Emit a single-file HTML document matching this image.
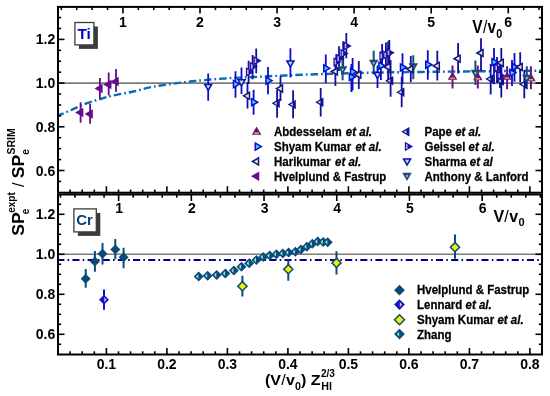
<!DOCTYPE html><html><head><meta charset="utf-8"><style>
html,body{margin:0;padding:0;background:#fff;}
svg{display:block;will-change:transform;}
text{font-family:"Liberation Sans",sans-serif;font-weight:bold;fill:#000;}
</style></head><body>
<svg width="550" height="396" viewBox="0 0 550 396">
<rect width="550" height="396" fill="#fff"/>
<defs><clipPath id="ct"><rect x="58" y="6.9" width="484" height="185.8"/></clipPath>
<clipPath id="cb"><rect x="58" y="194.5" width="484" height="160"/></clipPath></defs>
<line x1="58" y1="83.1" x2="542" y2="83.1" stroke="#7c7c7c" stroke-width="1.6"/>
<line x1="58" y1="254.3" x2="542" y2="254.3" stroke="#7c7c7c" stroke-width="1.6"/>
<line x1="58" y1="260" x2="542" y2="260" stroke="#00008c" stroke-width="2" stroke-dasharray="7.1 3.2 1.6 3.25" stroke-dashoffset="0.75"/>
<polyline clip-path="url(#ct)" points="58,115.5 59.22,115.01 60.87,114.35 62.84,113.56 65.01,112.67 67.27,111.74 69.5,110.8 71.76,109.8 74.14,108.7 76.61,107.56 79.13,106.41 81.64,105.31 84.1,104.3 86.52,103.39 88.94,102.54 91.35,101.74 93.76,100.98 96.18,100.23 98.6,99.5 100.96,98.79 103.25,98.11 105.54,97.45 107.91,96.8 110.44,96.16 113.2,95.5 116.28,94.84 119.62,94.19 123.12,93.53 126.67,92.87 130.17,92.2 133.5,91.5 136.62,90.77 139.61,90 142.55,89.21 145.51,88.44 148.56,87.69 151.8,87 155.24,86.36 158.84,85.76 162.53,85.19 166.27,84.64 170.01,84.11 173.7,83.6 177.34,83.1 180.97,82.62 184.61,82.16 188.24,81.71 191.87,81.3 195.5,80.9 199.21,80.53 203.01,80.17 206.81,79.84 210.51,79.54 214.04,79.26 217.3,79 220.2,78.78 222.8,78.59 225.23,78.43 227.59,78.29 230,78.14 232.6,78 235.23,77.86 237.78,77.74 240.38,77.63 243.19,77.51 246.35,77.37 250,77.2 254.21,76.99 258.86,76.75 263.87,76.49 269.13,76.22 274.54,75.95 280,75.7 285.38,75.46 290.72,75.23 296.22,75.01 302.06,74.78 308.42,74.54 315.5,74.3 323.19,74.04 331.31,73.76 339.97,73.48 349.24,73.2 359.22,72.94 370,72.7 381.72,72.49 394.33,72.29 407.66,72.11 421.5,71.93 435.68,71.77 450,71.6 465.7,71.43 483.19,71.25 501,71.08 517.7,70.93 531.85,70.8 542,70.7" fill="none" stroke="#0a6cb4" stroke-width="2.4" stroke-dasharray="7.5 3 1.75 3" stroke-dashoffset="1.51"/>
<g clip-path="url(#ct)">
<line x1="80.6" y1="102.2" x2="80.6" y2="122.7" stroke="#650b8c" stroke-width="1.8"/>
<polygon points="75.12,112.5 83.34,107.75 83.34,117.25" fill="#650b8c"/>
<line x1="90.1" y1="104.1" x2="90.1" y2="123.8" stroke="#650b8c" stroke-width="1.8"/>
<polygon points="84.62,114 92.84,109.25 92.84,118.75" fill="#650b8c"/>
<line x1="99.9" y1="78.1" x2="99.9" y2="99.1" stroke="#650b8c" stroke-width="1.8"/>
<polygon points="94.42,88.6 102.64,83.85 102.64,93.35" fill="#650b8c"/>
<line x1="108.7" y1="72.5" x2="108.7" y2="95.3" stroke="#650b8c" stroke-width="1.8"/>
<polygon points="103.22,84.5 111.44,79.75 111.44,89.25" fill="#650b8c"/>
<line x1="116" y1="69" x2="116" y2="92.1" stroke="#650b8c" stroke-width="1.8"/>
<polygon points="110.52,81.6 118.74,76.85 118.74,86.35" fill="#650b8c"/>
<line x1="277.1" y1="89.9" x2="277.1" y2="117.7" stroke="#10109c" stroke-width="1.8"/>
<line x1="293.1" y1="90.2" x2="293.1" y2="118.3" stroke="#10109c" stroke-width="1.8"/>
<line x1="320.7" y1="88.1" x2="320.7" y2="116.6" stroke="#10109c" stroke-width="1.8"/>
<line x1="390.6" y1="60" x2="390.6" y2="96.8" stroke="#10109c" stroke-width="1.8"/>
<line x1="401.7" y1="76.7" x2="401.7" y2="107.2" stroke="#10109c" stroke-width="1.8"/>
<line x1="490.7" y1="64" x2="490.7" y2="94.4" stroke="#10109c" stroke-width="1.8"/>
<line x1="501.3" y1="66" x2="501.3" y2="97.4" stroke="#10109c" stroke-width="1.8"/>
<line x1="524.3" y1="70" x2="524.3" y2="98.2" stroke="#10109c" stroke-width="1.8"/>
<line x1="248.6" y1="60.7" x2="248.6" y2="84" stroke="#10109c" stroke-width="1.8"/>
<line x1="252.6" y1="55.1" x2="252.6" y2="79.3" stroke="#10109c" stroke-width="1.8"/>
<line x1="256.2" y1="48.5" x2="256.2" y2="73.3" stroke="#10109c" stroke-width="1.8"/>
<line x1="336.2" y1="54.3" x2="336.2" y2="70" stroke="#10109c" stroke-width="1.8"/>
<line x1="339" y1="46.2" x2="339" y2="71" stroke="#10109c" stroke-width="1.8"/>
<line x1="343.2" y1="41.2" x2="343.2" y2="66" stroke="#10109c" stroke-width="1.8"/>
<line x1="346.3" y1="33.1" x2="346.3" y2="58.3" stroke="#10109c" stroke-width="1.8"/>
<line x1="382.1" y1="43.9" x2="382.1" y2="68" stroke="#10109c" stroke-width="1.8"/>
<line x1="385.9" y1="42.6" x2="385.9" y2="67" stroke="#10109c" stroke-width="1.8"/>
<line x1="389.3" y1="40.1" x2="389.3" y2="65" stroke="#10109c" stroke-width="1.8"/>
<line x1="497" y1="57" x2="497" y2="83" stroke="#10109c" stroke-width="1.8"/>
<line x1="500" y1="63" x2="500" y2="88" stroke="#10109c" stroke-width="1.8"/>
<line x1="235.5" y1="71.2" x2="235.5" y2="97.7" stroke="#0a0ad0" stroke-width="1.8"/>
<line x1="253.6" y1="89.7" x2="253.6" y2="114.7" stroke="#0a0ad0" stroke-width="1.8"/>
<line x1="268" y1="67.1" x2="268" y2="94.2" stroke="#0a0ad0" stroke-width="1.8"/>
<line x1="325.8" y1="54.4" x2="325.8" y2="83.1" stroke="#0a0ad0" stroke-width="1.8"/>
<line x1="352.6" y1="58" x2="352.6" y2="90.4" stroke="#0a0ad0" stroke-width="1.8"/>
<line x1="351.4" y1="64" x2="351.4" y2="92" stroke="#0a0ad0" stroke-width="1.8"/>
<line x1="380.9" y1="51.5" x2="380.9" y2="80" stroke="#0a0ad0" stroke-width="1.8"/>
<line x1="402.5" y1="53.3" x2="402.5" y2="84.2" stroke="#0a0ad0" stroke-width="1.8"/>
<line x1="427.8" y1="50.2" x2="427.8" y2="79.8" stroke="#0a0ad0" stroke-width="1.8"/>
<line x1="494" y1="48.1" x2="494" y2="84.3" stroke="#0a0ad0" stroke-width="1.8"/>
<line x1="512" y1="60" x2="512" y2="86" stroke="#0a0ad0" stroke-width="1.8"/>
<line x1="514.5" y1="53.1" x2="514.5" y2="81.8" stroke="#0a0ad0" stroke-width="1.8"/>
<line x1="247.5" y1="82" x2="247.5" y2="108.4" stroke="#10109c" stroke-width="1.8"/>
<line x1="280.5" y1="76.1" x2="280.5" y2="101" stroke="#10109c" stroke-width="1.8"/>
<line x1="335.4" y1="58.2" x2="335.4" y2="86" stroke="#10109c" stroke-width="1.8"/>
<line x1="358.8" y1="61" x2="358.8" y2="89.1" stroke="#10109c" stroke-width="1.8"/>
<line x1="388.1" y1="41.4" x2="388.1" y2="80" stroke="#10109c" stroke-width="1.8"/>
<line x1="410.8" y1="56" x2="410.8" y2="82" stroke="#10109c" stroke-width="1.8"/>
<line x1="437.3" y1="50.8" x2="437.3" y2="80.5" stroke="#10109c" stroke-width="1.8"/>
<line x1="458.1" y1="43.1" x2="458.1" y2="73.5" stroke="#10109c" stroke-width="1.8"/>
<line x1="481" y1="38.2" x2="481" y2="71" stroke="#10109c" stroke-width="1.8"/>
<line x1="501.3" y1="48.1" x2="501.3" y2="77" stroke="#10109c" stroke-width="1.8"/>
<line x1="520.2" y1="52.2" x2="520.2" y2="82.6" stroke="#10109c" stroke-width="1.8"/>
<line x1="208.2" y1="73.5" x2="208.2" y2="100.8" stroke="#0a0ad0" stroke-width="1.8"/>
<line x1="241.5" y1="67.4" x2="241.5" y2="94" stroke="#0a0ad0" stroke-width="1.8"/>
<line x1="290.4" y1="48.3" x2="290.4" y2="77.5" stroke="#0a0ad0" stroke-width="1.8"/>
<line x1="377.5" y1="65.6" x2="377.5" y2="88" stroke="#0a0ad0" stroke-width="1.8"/>
<line x1="342.6" y1="59" x2="342.6" y2="80.3" stroke="#15506f" stroke-width="2"/>
<line x1="373.7" y1="50.8" x2="373.7" y2="74.2" stroke="#15506f" stroke-width="2"/>
<line x1="413.3" y1="55.2" x2="413.3" y2="79.2" stroke="#15506f" stroke-width="2"/>
<line x1="475.4" y1="60.4" x2="475.4" y2="85" stroke="#15506f" stroke-width="2"/>
<line x1="526.8" y1="66.2" x2="526.8" y2="89.2" stroke="#15506f" stroke-width="2"/>
<line x1="452.5" y1="65.6" x2="452.5" y2="88.5" stroke="#6d1088" stroke-width="2"/>
<line x1="477.8" y1="65.6" x2="477.8" y2="88.5" stroke="#6d1088" stroke-width="2"/>
<line x1="507.1" y1="66.2" x2="507.1" y2="89.2" stroke="#6d1088" stroke-width="2"/>
<line x1="530.9" y1="66.2" x2="530.9" y2="89.2" stroke="#6d1088" stroke-width="2"/>
<polygon points="271.62,103.3 279.84,98.55 279.84,108.05" fill="#10109c"/>
<polygon points="274.05,103.3 276.82,101.7 276.82,104.9" fill="#a8f0a0"/>
<polygon points="287.62,104.6 295.84,99.85 295.84,109.35" fill="#10109c"/>
<polygon points="290.05,104.6 292.82,103 292.82,106.2" fill="#a8f0a0"/>
<polygon points="315.22,102.2 323.44,97.45 323.44,106.95" fill="#10109c"/>
<polygon points="317.65,102.2 320.42,100.6 320.42,103.8" fill="#a8f0a0"/>
<polygon points="385.12,80.8 393.34,76.05 393.34,85.55" fill="#10109c"/>
<polygon points="387.55,80.8 390.32,79.2 390.32,82.4" fill="#a8f0a0"/>
<polygon points="396.22,92.2 404.44,87.45 404.44,96.95" fill="#10109c"/>
<polygon points="398.65,92.2 401.42,90.6 401.42,93.8" fill="#a8f0a0"/>
<polygon points="485.22,79 493.44,74.25 493.44,83.75" fill="#10109c"/>
<polygon points="487.65,79 490.42,77.4 490.42,80.6" fill="#a8f0a0"/>
<polygon points="495.82,81 504.04,76.25 504.04,85.75" fill="#10109c"/>
<polygon points="498.25,81 501.02,79.4 501.02,82.6" fill="#a8f0a0"/>
<polygon points="518.82,84.3 527.04,79.55 527.04,89.05" fill="#10109c"/>
<polygon points="521.25,84.3 524.02,82.7 524.02,85.9" fill="#a8f0a0"/>
<polygon points="254.08,72 245.86,67.25 245.86,76.75" fill="#1212b4"/>
<rect x="247" y="69.7" width="1.6" height="4.6" fill="#e4a0b4"/>
<polygon points="258.08,66.5 249.86,61.75 249.86,71.25" fill="#1212b4"/>
<rect x="251" y="64.2" width="1.6" height="4.6" fill="#e4a0b4"/>
<polygon points="261.68,60.7 253.46,55.95 253.46,65.45" fill="#1212b4"/>
<rect x="254.6" y="58.4" width="1.6" height="4.6" fill="#e4a0b4"/>
<polygon points="341.68,62 333.46,57.25 333.46,66.75" fill="#1212b4"/>
<rect x="334.6" y="59.7" width="1.6" height="4.6" fill="#e4a0b4"/>
<polygon points="344.48,58.6 336.26,53.85 336.26,63.35" fill="#1212b4"/>
<rect x="337.4" y="56.3" width="1.6" height="4.6" fill="#e4a0b4"/>
<polygon points="348.68,53.5 340.46,48.75 340.46,58.25" fill="#1212b4"/>
<rect x="341.6" y="51.2" width="1.6" height="4.6" fill="#e4a0b4"/>
<polygon points="351.78,46 343.56,41.25 343.56,50.75" fill="#1212b4"/>
<rect x="344.7" y="43.7" width="1.6" height="4.6" fill="#e4a0b4"/>
<polygon points="387.58,56 379.36,51.25 379.36,60.75" fill="#1212b4"/>
<rect x="380.5" y="53.7" width="1.6" height="4.6" fill="#e4a0b4"/>
<polygon points="391.38,55 383.16,50.25 383.16,59.75" fill="#1212b4"/>
<rect x="384.3" y="52.7" width="1.6" height="4.6" fill="#e4a0b4"/>
<polygon points="394.78,52.7 386.56,47.95 386.56,57.45" fill="#1212b4"/>
<rect x="387.7" y="50.4" width="1.6" height="4.6" fill="#e4a0b4"/>
<polygon points="502.48,68 494.26,63.25 494.26,72.75" fill="#1212b4"/>
<rect x="495.4" y="65.7" width="1.6" height="4.6" fill="#e4a0b4"/>
<polygon points="505.48,75.5 497.26,70.75 497.26,80.25" fill="#1212b4"/>
<rect x="498.4" y="73.2" width="1.6" height="4.6" fill="#e4a0b4"/>
<polygon points="452.5,71.62 447.75,79.84 457.25,79.84" fill="#6d1088"/>
<rect x="450.3" y="77.5" width="4.4" height="1.6" fill="#d4b030"/>
<polygon points="477.8,72.12 473.05,80.34 482.55,80.34" fill="#6d1088"/>
<rect x="475.6" y="78" width="4.4" height="1.6" fill="#d4b030"/>
<polygon points="507.1,71.42 502.35,79.64 511.85,79.64" fill="#6d1088"/>
<rect x="504.9" y="77.3" width="4.4" height="1.6" fill="#d4b030"/>
<polygon points="530.9,73.02 526.15,81.24 535.65,81.24" fill="#6d1088"/>
<rect x="528.7" y="78.9" width="4.4" height="1.6" fill="#d4b030"/>
<polygon points="342.6,74.48 337.85,66.26 347.35,66.26" fill="#15506f"/>
<polygon points="342.6,71.33 341.1,68.73 344.1,68.73" fill="#e8a0d8"/>
<polygon points="373.7,67.98 368.95,59.76 378.45,59.76" fill="#15506f"/>
<polygon points="373.7,64.83 372.2,62.23 375.2,62.23" fill="#e8a0d8"/>
<polygon points="413.3,71.38 408.55,63.16 418.05,63.16" fill="#15506f"/>
<polygon points="413.3,68.23 411.8,65.63 414.8,65.63" fill="#e8a0d8"/>
<polygon points="475.4,77.88 470.65,69.66 480.15,69.66" fill="#15506f"/>
<polygon points="475.4,74.73 473.9,72.13 476.9,72.13" fill="#e8a0d8"/>
<polygon points="526.8,82.88 522.05,74.66 531.55,74.66" fill="#15506f"/>
<polygon points="526.8,79.73 525.3,77.13 528.3,77.13" fill="#e8a0d8"/>
<polygon points="239.54,84.1 233.48,80.6 233.48,87.6" fill="#3dd2ff" stroke="#0a0ad0" stroke-width="1.5"/>
<polygon points="257.64,102.2 251.58,98.7 251.58,105.7" fill="#3dd2ff" stroke="#0a0ad0" stroke-width="1.5"/>
<polygon points="272.04,80.6 265.98,77.1 265.98,84.1" fill="#3dd2ff" stroke="#0a0ad0" stroke-width="1.5"/>
<polygon points="329.84,68.3 323.78,64.8 323.78,71.8" fill="#3dd2ff" stroke="#0a0ad0" stroke-width="1.5"/>
<polygon points="356.64,71.8 350.58,68.3 350.58,75.3" fill="#3dd2ff" stroke="#0a0ad0" stroke-width="1.5"/>
<polygon points="355.44,77 349.38,73.5 349.38,80.5" fill="#3dd2ff" stroke="#0a0ad0" stroke-width="1.5"/>
<polygon points="384.94,65.7 378.88,62.2 378.88,69.2" fill="#3dd2ff" stroke="#0a0ad0" stroke-width="1.5"/>
<polygon points="406.54,67.5 400.48,64 400.48,71" fill="#3dd2ff" stroke="#0a0ad0" stroke-width="1.5"/>
<polygon points="431.84,64.7 425.78,61.2 425.78,68.2" fill="#3dd2ff" stroke="#0a0ad0" stroke-width="1.5"/>
<polygon points="498.04,62.1 491.98,58.6 491.98,65.6" fill="#3dd2ff" stroke="#0a0ad0" stroke-width="1.5"/>
<polygon points="516.04,72.8 509.98,69.3 509.98,76.3" fill="#3dd2ff" stroke="#0a0ad0" stroke-width="1.5"/>
<polygon points="518.54,67 512.48,63.5 512.48,70.5" fill="#3dd2ff" stroke="#0a0ad0" stroke-width="1.5"/>
<polygon points="243.46,95.8 249.52,92.3 249.52,99.3" fill="#f2f07a" stroke="#10109c" stroke-width="1.5"/>
<polygon points="276.46,88.6 282.52,85.1 282.52,92.1" fill="#f2f07a" stroke="#10109c" stroke-width="1.5"/>
<polygon points="331.36,71.5 337.42,68 337.42,75" fill="#f2f07a" stroke="#10109c" stroke-width="1.5"/>
<polygon points="354.76,74.7 360.82,71.2 360.82,78.2" fill="#f2f07a" stroke="#10109c" stroke-width="1.5"/>
<polygon points="384.06,66.9 390.12,63.4 390.12,70.4" fill="#f2f07a" stroke="#10109c" stroke-width="1.5"/>
<polygon points="406.76,69.1 412.82,65.6 412.82,72.6" fill="#f2f07a" stroke="#10109c" stroke-width="1.5"/>
<polygon points="433.26,65.9 439.32,62.4 439.32,69.4" fill="#f2f07a" stroke="#10109c" stroke-width="1.5"/>
<polygon points="454.06,58.7 460.12,55.2 460.12,62.2" fill="#f2f07a" stroke="#10109c" stroke-width="1.5"/>
<polygon points="476.96,53 483.02,49.5 483.02,56.5" fill="#f2f07a" stroke="#10109c" stroke-width="1.5"/>
<polygon points="497.26,62.9 503.32,59.4 503.32,66.4" fill="#f2f07a" stroke="#10109c" stroke-width="1.5"/>
<polygon points="516.16,67 522.22,63.5 522.22,70.5" fill="#f2f07a" stroke="#10109c" stroke-width="1.5"/>
<polygon points="208.2,90.44 204.7,84.38 211.7,84.38" fill="#a6f5a6" stroke="#0a0ad0" stroke-width="1.5"/>
<polygon points="241.5,85.84 238,79.78 245,79.78" fill="#a6f5a6" stroke="#0a0ad0" stroke-width="1.5"/>
<polygon points="290.4,67.04 286.9,60.98 293.9,60.98" fill="#a6f5a6" stroke="#0a0ad0" stroke-width="1.5"/>
<polygon points="377.5,78.54 374,72.48 381,72.48" fill="#a6f5a6" stroke="#0a0ad0" stroke-width="1.5"/>
</g>
<g clip-path="url(#cb)">
<line x1="85.7" y1="269" x2="85.7" y2="287.8" stroke="#0c4a78" stroke-width="2"/>
<line x1="94.9" y1="251" x2="94.9" y2="271.8" stroke="#0c4a78" stroke-width="2"/>
<line x1="102.5" y1="243" x2="102.5" y2="264.4" stroke="#0c4a78" stroke-width="2"/>
<line x1="115.3" y1="238.9" x2="115.3" y2="259.3" stroke="#0c4a78" stroke-width="2"/>
<line x1="123.6" y1="247.8" x2="123.6" y2="268.3" stroke="#0c4a78" stroke-width="2"/>
<polygon points="85.7,273.8 90.7,278.8 85.7,283.8 80.7,278.8" fill="#0c4a78"/>
<polygon points="94.9,256.4 99.9,261.4 94.9,266.4 89.9,261.4" fill="#0c4a78"/>
<polygon points="102.5,248.7 107.5,253.7 102.5,258.7 97.5,253.7" fill="#0c4a78"/>
<polygon points="115.3,244.6 120.3,249.6 115.3,254.6 110.3,249.6" fill="#0c4a78"/>
<polygon points="123.6,252.3 128.6,257.3 123.6,262.3 118.6,257.3" fill="#0c4a78"/>
<line x1="104" y1="289.6" x2="104" y2="309.8" stroke="#1414cc" stroke-width="2"/>
<polygon points="104,294.7 109,299.7 104,304.7 99,299.7" fill="#1414cc"/>
<polygon points="104.3,297.1 106.5,299.7 104.3,302.3" fill="#f0c0a8"/>
<line x1="242.4" y1="275.7" x2="242.4" y2="296.5" stroke="#0c4a78" stroke-width="2"/>
<line x1="288.3" y1="259.4" x2="288.3" y2="280.8" stroke="#0c4a78" stroke-width="2"/>
<line x1="336.5" y1="251.2" x2="336.5" y2="274.4" stroke="#0c4a78" stroke-width="2"/>
<line x1="455" y1="234.6" x2="455" y2="258.8" stroke="#0c4a78" stroke-width="2"/>
<polygon points="198.7,271.6 203.7,276.6 198.7,281.6 193.7,276.6" fill="#0c4a78"/>
<polygon points="198.3,274.2 196.1,276.6 198.3,279" fill="#8ee8e0"/>
<polygon points="207.6,270.7 212.6,275.7 207.6,280.7 202.6,275.7" fill="#0c4a78"/>
<polygon points="207.2,273.3 205,275.7 207.2,278.1" fill="#8ee8e0"/>
<polygon points="216.7,270 221.7,275 216.7,280 211.7,275" fill="#0c4a78"/>
<polygon points="216.3,272.6 214.1,275 216.3,277.4" fill="#8ee8e0"/>
<polygon points="225.4,268.4 230.4,273.4 225.4,278.4 220.4,273.4" fill="#0c4a78"/>
<polygon points="225,271 222.8,273.4 225,275.8" fill="#8ee8e0"/>
<polygon points="233.9,265.5 238.9,270.5 233.9,275.5 228.9,270.5" fill="#0c4a78"/>
<polygon points="233.5,268.1 231.3,270.5 233.5,272.9" fill="#8ee8e0"/>
<polygon points="241.5,261.7 246.5,266.7 241.5,271.7 236.5,266.7" fill="#0c4a78"/>
<polygon points="241.1,264.3 238.9,266.7 241.1,269.1" fill="#8ee8e0"/>
<polygon points="249.2,258.3 254.2,263.3 249.2,268.3 244.2,263.3" fill="#0c4a78"/>
<polygon points="248.8,260.9 246.6,263.3 248.8,265.7" fill="#8ee8e0"/>
<polygon points="256.4,255 261.4,260 256.4,265 251.4,260" fill="#0c4a78"/>
<polygon points="256,257.6 253.8,260 256,262.4" fill="#8ee8e0"/>
<polygon points="263.2,252.1 268.2,257.1 263.2,262.1 258.2,257.1" fill="#0c4a78"/>
<polygon points="262.8,254.7 260.6,257.1 262.8,259.5" fill="#8ee8e0"/>
<polygon points="269.7,250.5 274.7,255.5 269.7,260.5 264.7,255.5" fill="#0c4a78"/>
<polygon points="269.3,253.1 267.1,255.5 269.3,257.9" fill="#8ee8e0"/>
<polygon points="276.4,249.2 281.4,254.2 276.4,259.2 271.4,254.2" fill="#0c4a78"/>
<polygon points="276,251.8 273.8,254.2 276,256.6" fill="#8ee8e0"/>
<polygon points="282.8,248.4 287.8,253.4 282.8,258.4 277.8,253.4" fill="#0c4a78"/>
<polygon points="282.4,251 280.2,253.4 282.4,255.8" fill="#8ee8e0"/>
<polygon points="288.6,247.6 293.6,252.6 288.6,257.6 283.6,252.6" fill="#0c4a78"/>
<polygon points="288.2,250.2 286,252.6 288.2,255" fill="#8ee8e0"/>
<polygon points="295.3,246.7 300.3,251.7 295.3,256.7 290.3,251.7" fill="#0c4a78"/>
<polygon points="294.9,249.3 292.7,251.7 294.9,254.1" fill="#8ee8e0"/>
<polygon points="300.9,244.5 305.9,249.5 300.9,254.5 295.9,249.5" fill="#0c4a78"/>
<polygon points="300.5,247.1 298.3,249.5 300.5,251.9" fill="#8ee8e0"/>
<polygon points="306.8,241.8 311.8,246.8 306.8,251.8 301.8,246.8" fill="#0c4a78"/>
<polygon points="306.4,244.4 304.2,246.8 306.4,249.2" fill="#8ee8e0"/>
<polygon points="312.3,238.8 317.3,243.8 312.3,248.8 307.3,243.8" fill="#0c4a78"/>
<polygon points="311.9,241.4 309.7,243.8 311.9,246.2" fill="#8ee8e0"/>
<polygon points="317.7,236.6 322.7,241.6 317.7,246.6 312.7,241.6" fill="#0c4a78"/>
<polygon points="317.3,239.2 315.1,241.6 317.3,244" fill="#8ee8e0"/>
<polygon points="323.2,237 328.2,242 323.2,247 318.2,242" fill="#0c4a78"/>
<polygon points="322.8,239.6 320.6,242 322.8,244.4" fill="#8ee8e0"/>
<polygon points="327.7,237.2 332.7,242.2 327.7,247.2 322.7,242.2" fill="#0c4a78"/>
<polygon points="327.3,239.8 325.1,242.2 327.3,244.6" fill="#8ee8e0"/>
<polygon points="242.4,281.6 247,286.2 242.4,290.8 237.8,286.2" fill="#f4f000" stroke="#0c4a78" stroke-width="1.5"/>
<polygon points="288.3,264.6 292.9,269.2 288.3,273.8 283.7,269.2" fill="#f4f000" stroke="#0c4a78" stroke-width="1.5"/>
<polygon points="336.5,258.3 341.1,262.9 336.5,267.5 331.9,262.9" fill="#f4f000" stroke="#0c4a78" stroke-width="1.5"/>
<polygon points="455,242.6 459.6,247.2 455,251.8 450.4,247.2" fill="#f4f000" stroke="#0c4a78" stroke-width="1.5"/>
</g>
<g stroke="#000" stroke-width="1.6">
<line x1="58" y1="181.42" x2="61.2" y2="181.42"/>
<line x1="542" y1="181.42" x2="538.8" y2="181.42"/>
<line x1="58" y1="170.5" x2="64.5" y2="170.5"/>
<line x1="542" y1="170.5" x2="535.5" y2="170.5"/>
<line x1="58" y1="159.57" x2="61.2" y2="159.57"/>
<line x1="542" y1="159.57" x2="538.8" y2="159.57"/>
<line x1="58" y1="148.65" x2="61.2" y2="148.65"/>
<line x1="542" y1="148.65" x2="538.8" y2="148.65"/>
<line x1="58" y1="137.72" x2="61.2" y2="137.72"/>
<line x1="542" y1="137.72" x2="538.8" y2="137.72"/>
<line x1="58" y1="126.8" x2="64.5" y2="126.8"/>
<line x1="542" y1="126.8" x2="535.5" y2="126.8"/>
<line x1="58" y1="115.87" x2="61.2" y2="115.87"/>
<line x1="542" y1="115.87" x2="538.8" y2="115.87"/>
<line x1="58" y1="104.95" x2="61.2" y2="104.95"/>
<line x1="542" y1="104.95" x2="538.8" y2="104.95"/>
<line x1="58" y1="94.03" x2="61.2" y2="94.03"/>
<line x1="542" y1="94.03" x2="538.8" y2="94.03"/>
<line x1="58" y1="83.1" x2="64.5" y2="83.1"/>
<line x1="542" y1="83.1" x2="535.5" y2="83.1"/>
<line x1="58" y1="72.17" x2="61.2" y2="72.17"/>
<line x1="542" y1="72.17" x2="538.8" y2="72.17"/>
<line x1="58" y1="61.25" x2="61.2" y2="61.25"/>
<line x1="542" y1="61.25" x2="538.8" y2="61.25"/>
<line x1="58" y1="50.33" x2="61.2" y2="50.33"/>
<line x1="542" y1="50.33" x2="538.8" y2="50.33"/>
<line x1="58" y1="39.4" x2="64.5" y2="39.4"/>
<line x1="542" y1="39.4" x2="535.5" y2="39.4"/>
<line x1="58" y1="28.47" x2="61.2" y2="28.47"/>
<line x1="542" y1="28.47" x2="538.8" y2="28.47"/>
<line x1="58" y1="17.55" x2="61.2" y2="17.55"/>
<line x1="542" y1="17.55" x2="538.8" y2="17.55"/>
<line x1="70.1" y1="192.7" x2="70.1" y2="189.5"/>
<line x1="82.2" y1="192.7" x2="82.2" y2="189.5"/>
<line x1="94.3" y1="192.7" x2="94.3" y2="189.5"/>
<line x1="106.4" y1="192.7" x2="106.4" y2="186.2"/>
<line x1="118.5" y1="192.7" x2="118.5" y2="189.5"/>
<line x1="130.6" y1="192.7" x2="130.6" y2="189.5"/>
<line x1="142.7" y1="192.7" x2="142.7" y2="189.5"/>
<line x1="154.8" y1="192.7" x2="154.8" y2="189.5"/>
<line x1="166.9" y1="192.7" x2="166.9" y2="186.2"/>
<line x1="179" y1="192.7" x2="179" y2="189.5"/>
<line x1="191.1" y1="192.7" x2="191.1" y2="189.5"/>
<line x1="203.2" y1="192.7" x2="203.2" y2="189.5"/>
<line x1="215.3" y1="192.7" x2="215.3" y2="189.5"/>
<line x1="227.4" y1="192.7" x2="227.4" y2="186.2"/>
<line x1="239.5" y1="192.7" x2="239.5" y2="189.5"/>
<line x1="251.6" y1="192.7" x2="251.6" y2="189.5"/>
<line x1="263.7" y1="192.7" x2="263.7" y2="189.5"/>
<line x1="275.8" y1="192.7" x2="275.8" y2="189.5"/>
<line x1="287.9" y1="192.7" x2="287.9" y2="186.2"/>
<line x1="300" y1="192.7" x2="300" y2="189.5"/>
<line x1="312.1" y1="192.7" x2="312.1" y2="189.5"/>
<line x1="324.2" y1="192.7" x2="324.2" y2="189.5"/>
<line x1="336.3" y1="192.7" x2="336.3" y2="189.5"/>
<line x1="348.4" y1="192.7" x2="348.4" y2="186.2"/>
<line x1="360.5" y1="192.7" x2="360.5" y2="189.5"/>
<line x1="372.6" y1="192.7" x2="372.6" y2="189.5"/>
<line x1="384.7" y1="192.7" x2="384.7" y2="189.5"/>
<line x1="396.8" y1="192.7" x2="396.8" y2="189.5"/>
<line x1="408.9" y1="192.7" x2="408.9" y2="186.2"/>
<line x1="421" y1="192.7" x2="421" y2="189.5"/>
<line x1="433.1" y1="192.7" x2="433.1" y2="189.5"/>
<line x1="445.2" y1="192.7" x2="445.2" y2="189.5"/>
<line x1="457.3" y1="192.7" x2="457.3" y2="189.5"/>
<line x1="469.4" y1="192.7" x2="469.4" y2="186.2"/>
<line x1="481.5" y1="192.7" x2="481.5" y2="189.5"/>
<line x1="493.6" y1="192.7" x2="493.6" y2="189.5"/>
<line x1="505.7" y1="192.7" x2="505.7" y2="189.5"/>
<line x1="517.8" y1="192.7" x2="517.8" y2="189.5"/>
<line x1="529.9" y1="192.7" x2="529.9" y2="186.2"/>
<line x1="61.31" y1="6.9" x2="61.31" y2="10.1"/>
<line x1="76.72" y1="6.9" x2="76.72" y2="10.1"/>
<line x1="92.13" y1="6.9" x2="92.13" y2="10.1"/>
<line x1="107.54" y1="6.9" x2="107.54" y2="10.1"/>
<line x1="122.96" y1="6.9" x2="122.96" y2="13.4"/>
<line x1="138.37" y1="6.9" x2="138.37" y2="10.1"/>
<line x1="153.78" y1="6.9" x2="153.78" y2="10.1"/>
<line x1="169.19" y1="6.9" x2="169.19" y2="10.1"/>
<line x1="184.6" y1="6.9" x2="184.6" y2="10.1"/>
<line x1="200.01" y1="6.9" x2="200.01" y2="13.4"/>
<line x1="215.42" y1="6.9" x2="215.42" y2="10.1"/>
<line x1="230.83" y1="6.9" x2="230.83" y2="10.1"/>
<line x1="246.25" y1="6.9" x2="246.25" y2="10.1"/>
<line x1="261.66" y1="6.9" x2="261.66" y2="10.1"/>
<line x1="277.07" y1="6.9" x2="277.07" y2="13.4"/>
<line x1="292.48" y1="6.9" x2="292.48" y2="10.1"/>
<line x1="307.89" y1="6.9" x2="307.89" y2="10.1"/>
<line x1="323.3" y1="6.9" x2="323.3" y2="10.1"/>
<line x1="338.71" y1="6.9" x2="338.71" y2="10.1"/>
<line x1="354.12" y1="6.9" x2="354.12" y2="13.4"/>
<line x1="369.54" y1="6.9" x2="369.54" y2="10.1"/>
<line x1="384.95" y1="6.9" x2="384.95" y2="10.1"/>
<line x1="400.36" y1="6.9" x2="400.36" y2="10.1"/>
<line x1="415.77" y1="6.9" x2="415.77" y2="10.1"/>
<line x1="431.18" y1="6.9" x2="431.18" y2="13.4"/>
<line x1="446.59" y1="6.9" x2="446.59" y2="10.1"/>
<line x1="462" y1="6.9" x2="462" y2="10.1"/>
<line x1="477.41" y1="6.9" x2="477.41" y2="10.1"/>
<line x1="492.83" y1="6.9" x2="492.83" y2="10.1"/>
<line x1="508.24" y1="6.9" x2="508.24" y2="13.4"/>
<line x1="523.65" y1="6.9" x2="523.65" y2="10.1"/>
<line x1="539.06" y1="6.9" x2="539.06" y2="10.1"/>
<line x1="58" y1="344.3" x2="61.2" y2="344.3"/>
<line x1="542" y1="344.3" x2="538.8" y2="344.3"/>
<line x1="58" y1="334.3" x2="64.5" y2="334.3"/>
<line x1="542" y1="334.3" x2="535.5" y2="334.3"/>
<line x1="58" y1="324.3" x2="61.2" y2="324.3"/>
<line x1="542" y1="324.3" x2="538.8" y2="324.3"/>
<line x1="58" y1="314.3" x2="61.2" y2="314.3"/>
<line x1="542" y1="314.3" x2="538.8" y2="314.3"/>
<line x1="58" y1="304.3" x2="61.2" y2="304.3"/>
<line x1="542" y1="304.3" x2="538.8" y2="304.3"/>
<line x1="58" y1="294.3" x2="64.5" y2="294.3"/>
<line x1="542" y1="294.3" x2="535.5" y2="294.3"/>
<line x1="58" y1="284.3" x2="61.2" y2="284.3"/>
<line x1="542" y1="284.3" x2="538.8" y2="284.3"/>
<line x1="58" y1="274.3" x2="61.2" y2="274.3"/>
<line x1="542" y1="274.3" x2="538.8" y2="274.3"/>
<line x1="58" y1="264.3" x2="61.2" y2="264.3"/>
<line x1="542" y1="264.3" x2="538.8" y2="264.3"/>
<line x1="58" y1="254.3" x2="64.5" y2="254.3"/>
<line x1="542" y1="254.3" x2="535.5" y2="254.3"/>
<line x1="58" y1="244.3" x2="61.2" y2="244.3"/>
<line x1="542" y1="244.3" x2="538.8" y2="244.3"/>
<line x1="58" y1="234.3" x2="61.2" y2="234.3"/>
<line x1="542" y1="234.3" x2="538.8" y2="234.3"/>
<line x1="58" y1="224.3" x2="61.2" y2="224.3"/>
<line x1="542" y1="224.3" x2="538.8" y2="224.3"/>
<line x1="58" y1="214.3" x2="64.5" y2="214.3"/>
<line x1="542" y1="214.3" x2="535.5" y2="214.3"/>
<line x1="58" y1="204.3" x2="61.2" y2="204.3"/>
<line x1="542" y1="204.3" x2="538.8" y2="204.3"/>
<line x1="70.1" y1="354.5" x2="70.1" y2="351.3"/>
<line x1="82.2" y1="354.5" x2="82.2" y2="351.3"/>
<line x1="94.3" y1="354.5" x2="94.3" y2="351.3"/>
<line x1="106.4" y1="354.5" x2="106.4" y2="348"/>
<line x1="118.5" y1="354.5" x2="118.5" y2="351.3"/>
<line x1="130.6" y1="354.5" x2="130.6" y2="351.3"/>
<line x1="142.7" y1="354.5" x2="142.7" y2="351.3"/>
<line x1="154.8" y1="354.5" x2="154.8" y2="351.3"/>
<line x1="166.9" y1="354.5" x2="166.9" y2="348"/>
<line x1="179" y1="354.5" x2="179" y2="351.3"/>
<line x1="191.1" y1="354.5" x2="191.1" y2="351.3"/>
<line x1="203.2" y1="354.5" x2="203.2" y2="351.3"/>
<line x1="215.3" y1="354.5" x2="215.3" y2="351.3"/>
<line x1="227.4" y1="354.5" x2="227.4" y2="348"/>
<line x1="239.5" y1="354.5" x2="239.5" y2="351.3"/>
<line x1="251.6" y1="354.5" x2="251.6" y2="351.3"/>
<line x1="263.7" y1="354.5" x2="263.7" y2="351.3"/>
<line x1="275.8" y1="354.5" x2="275.8" y2="351.3"/>
<line x1="287.9" y1="354.5" x2="287.9" y2="348"/>
<line x1="300" y1="354.5" x2="300" y2="351.3"/>
<line x1="312.1" y1="354.5" x2="312.1" y2="351.3"/>
<line x1="324.2" y1="354.5" x2="324.2" y2="351.3"/>
<line x1="336.3" y1="354.5" x2="336.3" y2="351.3"/>
<line x1="348.4" y1="354.5" x2="348.4" y2="348"/>
<line x1="360.5" y1="354.5" x2="360.5" y2="351.3"/>
<line x1="372.6" y1="354.5" x2="372.6" y2="351.3"/>
<line x1="384.7" y1="354.5" x2="384.7" y2="351.3"/>
<line x1="396.8" y1="354.5" x2="396.8" y2="351.3"/>
<line x1="408.9" y1="354.5" x2="408.9" y2="348"/>
<line x1="421" y1="354.5" x2="421" y2="351.3"/>
<line x1="433.1" y1="354.5" x2="433.1" y2="351.3"/>
<line x1="445.2" y1="354.5" x2="445.2" y2="351.3"/>
<line x1="457.3" y1="354.5" x2="457.3" y2="351.3"/>
<line x1="469.4" y1="354.5" x2="469.4" y2="348"/>
<line x1="481.5" y1="354.5" x2="481.5" y2="351.3"/>
<line x1="493.6" y1="354.5" x2="493.6" y2="351.3"/>
<line x1="505.7" y1="354.5" x2="505.7" y2="351.3"/>
<line x1="517.8" y1="354.5" x2="517.8" y2="351.3"/>
<line x1="529.9" y1="354.5" x2="529.9" y2="348"/>
<line x1="60.44" y1="194.5" x2="60.44" y2="197.7"/>
<line x1="74.99" y1="194.5" x2="74.99" y2="197.7"/>
<line x1="89.53" y1="194.5" x2="89.53" y2="197.7"/>
<line x1="104.07" y1="194.5" x2="104.07" y2="197.7"/>
<line x1="118.61" y1="194.5" x2="118.61" y2="201"/>
<line x1="133.16" y1="194.5" x2="133.16" y2="197.7"/>
<line x1="147.7" y1="194.5" x2="147.7" y2="197.7"/>
<line x1="162.24" y1="194.5" x2="162.24" y2="197.7"/>
<line x1="176.78" y1="194.5" x2="176.78" y2="197.7"/>
<line x1="191.33" y1="194.5" x2="191.33" y2="201"/>
<line x1="205.87" y1="194.5" x2="205.87" y2="197.7"/>
<line x1="220.41" y1="194.5" x2="220.41" y2="197.7"/>
<line x1="234.95" y1="194.5" x2="234.95" y2="197.7"/>
<line x1="249.5" y1="194.5" x2="249.5" y2="197.7"/>
<line x1="264.04" y1="194.5" x2="264.04" y2="201"/>
<line x1="278.58" y1="194.5" x2="278.58" y2="197.7"/>
<line x1="293.13" y1="194.5" x2="293.13" y2="197.7"/>
<line x1="307.67" y1="194.5" x2="307.67" y2="197.7"/>
<line x1="322.21" y1="194.5" x2="322.21" y2="197.7"/>
<line x1="336.75" y1="194.5" x2="336.75" y2="201"/>
<line x1="351.3" y1="194.5" x2="351.3" y2="197.7"/>
<line x1="365.84" y1="194.5" x2="365.84" y2="197.7"/>
<line x1="380.38" y1="194.5" x2="380.38" y2="197.7"/>
<line x1="394.92" y1="194.5" x2="394.92" y2="197.7"/>
<line x1="409.47" y1="194.5" x2="409.47" y2="201"/>
<line x1="424.01" y1="194.5" x2="424.01" y2="197.7"/>
<line x1="438.55" y1="194.5" x2="438.55" y2="197.7"/>
<line x1="453.1" y1="194.5" x2="453.1" y2="197.7"/>
<line x1="467.64" y1="194.5" x2="467.64" y2="197.7"/>
<line x1="482.18" y1="194.5" x2="482.18" y2="201"/>
<line x1="496.72" y1="194.5" x2="496.72" y2="197.7"/>
<line x1="511.27" y1="194.5" x2="511.27" y2="197.7"/>
<line x1="525.81" y1="194.5" x2="525.81" y2="197.7"/>
<line x1="540.35" y1="194.5" x2="540.35" y2="197.7"/>
</g>
<rect x="58" y="6.9" width="484" height="185.8" fill="none" stroke="#000" stroke-width="2"/>
<rect x="58" y="194.5" width="484" height="160" fill="none" stroke="#000" stroke-width="2"/>
<g font-size="14" text-anchor="middle">
<text x="55.2" y="44.4" text-anchor="end">1.2</text>
<text x="55.2" y="88.1" text-anchor="end">1.0</text>
<text x="55.2" y="131.8" text-anchor="end">0.8</text>
<text x="55.2" y="175.5" text-anchor="end">0.6</text>
<text x="55.2" y="219.3" text-anchor="end">1.2</text>
<text x="55.2" y="259.3" text-anchor="end">1.0</text>
<text x="55.2" y="299.3" text-anchor="end">0.8</text>
<text x="55.2" y="339.3" text-anchor="end">0.6</text>
<text x="106.4" y="369">0.1</text>
<text x="166.9" y="369">0.2</text>
<text x="227.4" y="369">0.3</text>
<text x="287.9" y="369">0.4</text>
<text x="348.4" y="369">0.5</text>
<text x="408.9" y="369">0.6</text>
<text x="469.4" y="369">0.7</text>
<text x="529.9" y="369">0.8</text>
<text x="122.96" y="26.8">1</text>
<text x="119.11" y="213">1</text>
<text x="200.01" y="26.8">2</text>
<text x="191.83" y="213">2</text>
<text x="277.07" y="26.8">3</text>
<text x="264.54" y="213">3</text>
<text x="354.12" y="26.8">4</text>
<text x="337.25" y="213">4</text>
<text x="431.18" y="26.8">5</text>
<text x="409.97" y="213">5</text>
<text x="508.24" y="26.8">6</text>
<text x="482.68" y="213">6</text>
</g>
<g transform="translate(472.3,32.8) scale(1.0,1.13)"><text x="0" y="0" font-size="15.5">V<tspan style="font-weight:normal" dx="0.3">/</tspan><tspan dx="0.3">v</tspan><tspan font-size="11" dy="4.6">0</tspan></text></g>
<text x="493.4" y="221.8" font-size="16">V<tspan style="font-weight:normal" dx="0.3">/</tspan><tspan dx="0.3">v</tspan><tspan font-size="11" dy="4.2" dx="0.4">0</tspan></text>
<g transform="translate(265,385.4) scale(1.07,1)"><text x="0" y="0" font-size="15">(V<tspan style="font-weight:normal" dx="0.3">/</tspan><tspan dx="0.3">v</tspan><tspan font-size="10" dy="4.3">0</tspan><tspan dy="-4.3">) Z</tspan><tspan font-size="10" dy="4.3" dx="0.6">HI</tspan></text></g>
<text x="321" y="377.2" font-size="10">2/3</text>
<g transform="translate(24.2,235.8) rotate(-90)">
<text transform="translate(0,0) scale(1.1,1)" font-size="16">SP</text>
<text x="21.6" y="5" font-size="10">e</text>
<text x="23" y="-9.2" font-size="10">expt</text>
<text x="48.8" y="0" font-size="16" font-weight="normal" style="font-weight:normal">/</text>
<text transform="translate(57.6,0) scale(1.1,1)" font-size="16">SP</text>
<text x="81" y="5" font-size="10">e</text>
<text x="81.2" y="-9.2" font-size="10.5">SRIM</text>
</g>
<rect x="78.9" y="26.5" width="19" height="22.4" fill="#3c3c3c"/>
<rect x="74.9" y="22.5" width="19" height="22.4" fill="#fff" stroke="#3c3c3c" stroke-width="1.3"/>
<text x="77.4" y="39.2" font-size="15.5" style="fill:#0000c8">Ti</text>
<rect x="77.9" y="212.9" width="22.4" height="23" fill="#3c3c3c"/>
<rect x="73.9" y="208.9" width="22.4" height="23" fill="#fff" stroke="#3c3c3c" stroke-width="1.3"/>
<text x="76.2" y="225.2" font-size="15" style="fill:#0a3c78">Cr</text>
<g font-size="11.5" stroke="#000" stroke-width="0.25">
<text transform="translate(274,135.9) scale(1,1.08)">Abdesselam <tspan font-style="italic" dx="1">et al.</tspan></text>
<text transform="translate(274,150.8) scale(1,1.08)">Shyam Kumar <tspan font-style="italic" dx="1">et al.</tspan></text>
<text transform="translate(274,165.5) scale(1,1.08)">Harikumar <tspan font-style="italic" dx="1">et al.</tspan></text>
<text transform="translate(274,180.5) scale(1,1.08)">Hvelplund &amp; Fastrup</text>
<text transform="translate(424.5,135.9) scale(1,1.08)">Pape <tspan font-style="italic">et al.</tspan></text>
<text transform="translate(424.5,150.8) scale(1,1.08)">Geissel <tspan font-style="italic">et al.</tspan></text>
<text transform="translate(424.5,165.5) scale(1,1.08)">Sharma <tspan font-style="italic">et al</tspan></text>
<text transform="translate(424.5,180.5) scale(1,1.08)">Anthony &amp; Lanford</text>
<text transform="translate(417,294) scale(1,1.08)">Hvelplund &amp; Fastrup</text>
<text transform="translate(417,308.9) scale(1,1.08)">Lennard <tspan font-style="italic">et al.</tspan></text>
<text transform="translate(417,323.7) scale(1,1.08)">Shyam Kumar <tspan font-style="italic">et al.</tspan></text>
<text transform="translate(417,339) scale(1,1.08)">Zhang</text>
</g>
<polygon points="256.6,126.52 251.85,134.74 261.35,134.74" fill="#6d1088"/>
<rect x="254.4" y="132.4" width="4.4" height="1.6" fill="#d4b030"/>
<polygon points="261.34,146.6 255.28,143.1 255.28,150.1" fill="#3dd2ff" stroke="#0a0ad0" stroke-width="1.5"/>
<polygon points="252.46,161.4 258.52,157.9 258.52,164.9" fill="#f2f07a" stroke="#10109c" stroke-width="1.5"/>
<polygon points="251.02,176.2 259.24,171.45 259.24,180.95" fill="#650b8c"/>
<polygon points="401.22,131.8 409.44,127.05 409.44,136.55" fill="#10109c"/>
<polygon points="403.65,131.8 406.42,130.2 406.42,133.4" fill="#a8f0a0"/>
<polygon points="413.08,146.6 404.86,141.85 404.86,151.35" fill="#1212b4"/>
<rect x="406" y="144.3" width="1.6" height="4.6" fill="#e4a0b4"/>
<polygon points="407.1,165.04 403.6,158.98 410.6,158.98" fill="#a6f5a6" stroke="#0a0ad0" stroke-width="1.5"/>
<polygon points="407,180.98 402.25,172.76 411.75,172.76" fill="#15506f"/>
<polygon points="407,177.83 405.5,175.23 408.5,175.23" fill="#e8a0d8"/>
<polygon points="399.5,284.8 404.9,290.2 399.5,295.6 394.1,290.2" fill="#0c4a78"/>
<polygon points="399.5,299.2 404.9,304.6 399.5,310 394.1,304.6" fill="#1414cc"/>
<polygon points="399.8,302 402,304.6 399.8,307.2" fill="#f0c0a8"/>
<polygon points="399.5,314.7 404.5,319.7 399.5,324.7 394.5,319.7" fill="#f4f000" stroke="#0c4a78" stroke-width="1.5"/>
<polygon points="399.5,328.7 404.9,334.1 399.5,339.5 394.1,334.1" fill="#0c4a78"/>
<polygon points="399.1,331.7 396.9,334.1 399.1,336.5" fill="#8ee8e0"/>
</svg></body></html>
